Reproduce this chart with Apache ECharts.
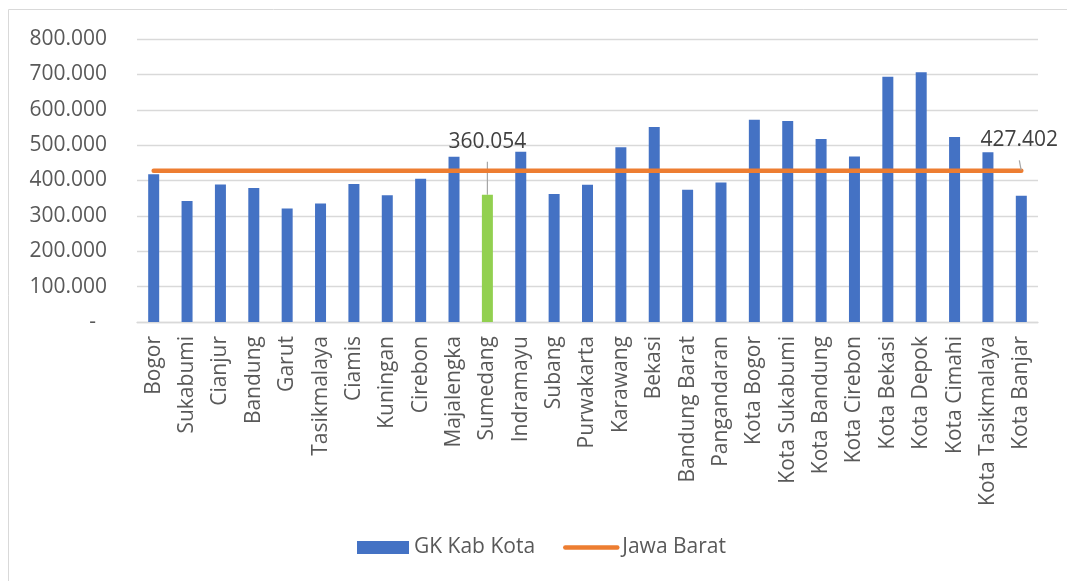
<!DOCTYPE html>
<html>
<head>
<meta charset="utf-8">
<script src="https://cdn.jsdelivr.net/npm/echarts@6/dist/echarts.min.js"></script>
<style>
  html, body { margin: 0; padding: 0; background: #fff; }
  #main { width: 1067px; height: 581px; }
</style>
</head>
<body>
<div id="main"></div>
<script>
// kabupaten / kota di Jawa Barat
var categories = ['Bogor', 'Sukabumi', 'Cianjur', 'Bandung', 'Garut', 'Tasikmalaya', 'Ciamis',
  'Kuningan', 'Cirebon', 'Majalengka', 'Sumedang', 'Indramayu', 'Subang', 'Purwakarta',
  'Karawang', 'Bekasi', 'Bandung Barat', 'Pangandaran', 'Kota Bogor', 'Kota Sukabumi',
  'Kota Bandung', 'Kota Cirebon', 'Kota Bekasi', 'Kota Depok', 'Kota Cimahi',
  'Kota Tasikmalaya', 'Kota Banjar'];

// GK Kab Kota
var gkKabKota = [418000, 342000, 389000, 379000, 321000, 335000, 390000,
  358000, 405000, 467000, 360054, 481000, 362000, 388000,
  494000, 551000, 374000, 394000, 572000, 568000,
  517000, 468000, 693000, 706000, 523000,
  480000, 357000];

// Jawa Barat (garis rata-rata provinsi)
var jawaBarat = [427402, 427402, 427402, 427402, 427402, 427402, 427402,
  427402, 427402, 427402, 427402, 427402, 427402, 427402,
  427402, 427402, 427402, 427402, 427402, 427402,
  427402, 427402, 427402, 427402, 427402,
  427402, 427402];

var highlight = 'Sumedang';
var yMin = 0, yMax = 800000, yStep = 100000;

function fmt(v) {
  if (v === 0) return '-  ';
  return String(v).replace(/\B(?=(\d{3})+(?!\d))/g, '.');
}

// label + baris kosong supaya garis penunjuk tidak menempel ke teks
function callout(p) {
  return '{v|' + fmt(p.value) + '}\n{g|}';
}

var barData = [];
for (var i = 0; i < gkKabKota.length; i++) {
  if (categories[i] == highlight) {
    barData.push({
      value: gkKabKota[i],
      itemStyle: { color: '#92D050' },
      label: { show: true }
    });
  } else {
    barData.push(gkKabKota[i]);
  }
}

var lineData = [];
for (var j = 0; j < jawaBarat.length; j++) {
  if (j == jawaBarat.length - 1) {
    lineData.push({ value: jawaBarat[j], label: { show: true } });
  } else {
    lineData.push(jawaBarat[j]);
  }
}

var font = '"Open Sans", "Noto Sans", sans-serif';
var fs = 21;
var calloutRich = {
  v: { fontFamily: font, fontSize: fs, lineHeight: 22, color: '#404040' },
  g: { height: 6, lineHeight: 6 }
};

var chart = echarts.init(document.getElementById('main'));

chart.setOption({
  animation: false,
  textStyle: { fontFamily: font },
  graphic: [{
    type: 'rect',
    shape: { x: 8.5, y: 9.5, width: 1200, height: 700 },
    style: { fill: 'none', stroke: '#d9d9d9', lineWidth: 1 },
    silent: true
  }],
  grid: { left: 137, right: 29, top: 39, bottom: 259 },
  legend: {
    left: 352,
    top: 532,
    itemWidth: 52,
    itemHeight: 13,
    itemGap: 28,
    textStyle: { fontFamily: font, fontSize: fs, color: '#595959' },
    data: [
      { name: 'GK Kab Kota', icon: 'rect' },
      { name: 'Jawa Barat', itemStyle: { opacity: 0 }, lineStyle: { width: 4.5, cap: 'round' } }
    ]
  },
  xAxis: {
    type: 'category',
    data: categories,
    axisLine: { lineStyle: { color: '#d9d9d9', width: 1.3 } },
    axisTick: { show: false },
    axisLabel: {
      rotate: 90,
      interval: 0,
      margin: 14,
      fontFamily: font,
      fontSize: fs,
      color: '#595959'
    }
  },
  yAxis: {
    type: 'value',
    min: yMin,
    max: yMax,
    interval: yStep,
    axisLine: { show: false },
    axisTick: { show: false },
    splitLine: { lineStyle: { color: '#d9d9d9', width: 1.3 } },
    axisLabel: {
      margin: 30,
      fontFamily: font,
      fontSize: fs,
      color: '#595959',
      formatter: fmt
    }
  },
  series: [
    {
      name: 'GK Kab Kota',
      type: 'bar',
      data: barData,
      barWidth: 11,
      itemStyle: { color: '#4472C4' },
      label: {
        show: false,
        position: 'top',
        distance: 5,
        formatter: callout,
        rich: calloutRich
      },
      labelLayout: { dy: -31 },
      labelLine: { show: true, lineStyle: { color: '#a6a6a6', width: 1.2 } }
    },
    {
      name: 'Jawa Barat',
      type: 'line',
      data: lineData,
      symbol: 'circle',
      symbolSize: 1,
      showSymbol: true,
      z: 3,
      itemStyle: { color: '#ED7D31' },
      lineStyle: { color: '#ED7D31', width: 4.5, cap: 'round' },
      label: {
        show: false,
        position: 'top',
        distance: 5,
        formatter: callout,
        rich: calloutRich
      },
      labelLayout: { dy: -8, dx: -2 },
      labelLine: { show: true, lineStyle: { color: '#a6a6a6', width: 1.2 } }
    }
  ]
});
</script>
</body>
</html>
